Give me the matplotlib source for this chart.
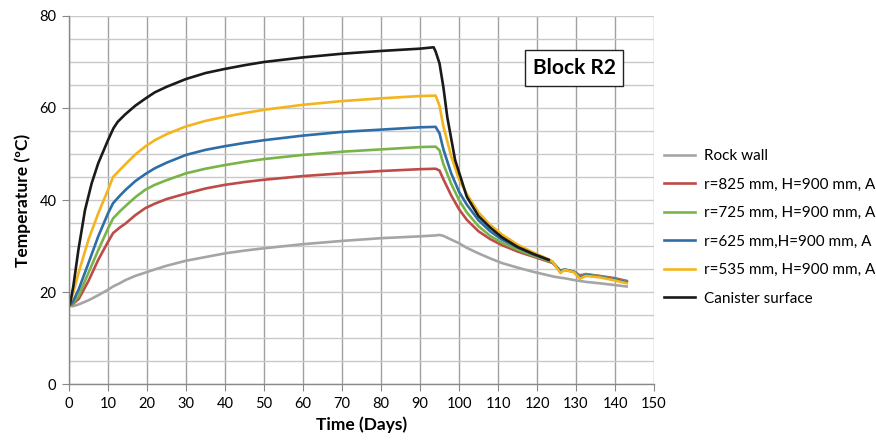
import matplotlib
matplotlib.use("Agg")
import matplotlib.pyplot as plt
import numpy as np

plt.rcParams['font.family'] = ['Lato', 'DejaVu Sans']

# Time axis shared by the rock wall and the four buffer sensors (days)
days = [0, 1, 2.5, 5, 7.5, 10, 11.3, 13, 14.5, 17, 19.5, 22, 25, 30, 35, 40,
        45, 50, 60, 70, 80, 90, 94, 95, 96, 98, 100, 102, 105, 108, 111, 115,
        119, 123, 124, 126, 127, 129.5, 131, 132.5, 136, 140, 143]

rock_wall = [17, 16.9, 17.3, 18.2, 19.3, 20.5, 21.2, 21.9, 22.6, 23.5, 24.2,
             24.9, 25.7, 26.8, 27.6, 28.4, 29.0, 29.5, 30.4, 31.1, 31.7, 32.1,
             32.3, 32.4, 32.2, 31.4, 30.6, 29.6, 28.4, 27.3, 26.3, 25.3, 24.4,
             23.6, 23.4, 23.1, 23.0, 22.6, 22.4, 22.2, 21.9, 21.5, 21.2]

r825 = [17, 17.4, 18.5, 22.4, 27.0, 30.9, 32.8, 34.0, 34.9, 36.7, 38.2, 39.2,
        40.2, 41.4, 42.5, 43.3, 43.9, 44.4, 45.2, 45.8, 46.3, 46.7, 46.8, 46.4,
        44.5, 41.0, 38.0, 35.7, 33.2, 31.5, 30.2, 28.8, 27.7, 26.6, 26.3, 24.6,
        24.8, 24.4, 23.6, 23.9, 23.5, 23.0, 22.4]

r725 = [17, 17.6, 19.2, 24.2, 29.1, 33.8, 36.0, 37.5, 38.7, 40.6, 42.2, 43.3,
        44.3, 45.8, 46.8, 47.6, 48.3, 48.9, 49.8, 50.5, 51.0, 51.5, 51.6, 50.8,
        47.8, 43.5, 40.0, 37.3, 34.3, 32.2, 30.7, 29.2, 27.9, 26.8, 26.4, 24.6,
        24.9, 24.4, 23.3, 23.8, 23.4, 22.8, 22.2]

r625 = [17, 17.9, 20.6, 26.3, 32.1, 37.1, 39.3, 40.9, 42.2, 44.1, 45.6, 46.9,
        48.1, 49.8, 50.9, 51.7, 52.4, 53.0, 54.0, 54.8, 55.3, 55.8, 55.9, 54.5,
        51.0, 45.8, 41.8, 39.0, 35.6, 33.2, 31.4, 29.7, 28.2, 27.0, 26.5, 24.5,
        24.9, 24.4, 23.1, 23.7, 23.3, 22.7, 22.1]

r535 = [17, 19.6, 24.3, 31.4, 37.1, 42.2, 45.0, 46.5, 47.8, 49.9, 51.6, 53.0,
        54.3, 56.0, 57.2, 58.1, 58.9, 59.6, 60.7, 61.5, 62.1, 62.6, 62.7, 60.5,
        56.0, 49.5, 44.5, 41.3, 37.3, 34.6, 32.5, 30.3, 28.6, 27.1, 26.6, 24.1,
        24.8, 24.3, 22.9, 23.5, 23.2, 22.5, 21.9]

# Canister surface is logged on its own time base
canister_days = [0, 0.3, 1.1, 2.4, 4.1, 5.8, 7.5, 10, 11.4, 12.5, 14.4, 17,
                 19.5, 22, 25, 30, 35, 40, 45, 50, 60, 70, 80, 90, 93.5, 94,
                 95, 96, 97, 99, 102, 105, 108, 111, 115, 119, 123]
canister = [17, 17.6, 21.2, 29.1, 37.8, 43.6, 48.0, 53.0, 55.6, 57.0, 58.6,
            60.5, 62.0, 63.4, 64.6, 66.3, 67.6, 68.5, 69.3, 70.0, 71.0, 71.8,
            72.4, 72.9, 73.2, 72.3, 69.7, 64.5, 58.0, 48.7, 40.7, 36.5, 34.0,
            31.9, 29.8, 28.3, 27.0]

labels = ["Rock wall", "r=825 mm, H=900 mm, A", "r=725 mm, H=900 mm, A",
          "r=625 mm,H=900 mm, A", "r=535 mm, H=900 mm, A", "Canister surface"]
colors = ["#a5a5a5", "#be4b48", "#79b449", "#2d6ea8", "#f4b41e", "#1a1a1a"]

fig = plt.figure(figsize=(8.76, 4.48), dpi=100)
ax = fig.add_axes([69 / 876, 1 - 384 / 448, (654 - 69) / 876, (384 - 16) / 448])

series = [(days, rock_wall), (days, r825), (days, r725), (days, r625),
          (days, r535), (canister_days, canister)]
for (x, y), lab, col in zip(series, labels, colors):
    ax.plot(x, y, color=col, lw=1.9, label=lab, solid_joinstyle='round')

ax.set_xlim(0, 150)
ax.set_ylim(0, 80)
ax.set_xticks(np.arange(0, 151, 10))
ax.set_yticks(np.arange(0, 81, 20))
ax.set_yticks(np.arange(0, 81, 5), minor=True)
ax.tick_params(axis='y', which='minor', length=0)
ax.tick_params(axis='both', which='major', length=5, width=0.8, color='#888888',
               labelsize=10.5, pad=4)

ax.grid(axis='y', which='both', color='#c9c9c9', lw=1.0)
ax.grid(axis='x', which='major', color='#a0a0a0', lw=1.0)
ax.set_axisbelow(True)
for side in ('top', 'right'):
    ax.spines[side].set_visible(False)
for side in ('left', 'bottom'):
    ax.spines[side].set_color('#888888')
    ax.spines[side].set_linewidth(1.0)

ax.set_xlabel("Time (Days)", fontsize=12.5, fontweight='bold', labelpad=4)
ax.set_ylabel("Temperature (ºC)", fontsize=12.5, fontweight='bold', labelpad=6)

ax.text(129.5, 68.7, "Block R2", fontsize=15, fontweight='bold',
        ha='center', va='center',
        bbox=dict(boxstyle='square,pad=0.38', fc='white', ec='#222222', lw=1.0))

fig.legend(loc='upper left', bbox_to_anchor=(664 / 876, 1 - 149 / 448),
           frameon=False, fontsize=11, handlelength=2.0, handletextpad=0.6,
           labelspacing=0.95, borderpad=0, borderaxespad=0)

fig.savefig("out.png", dpi=100)
